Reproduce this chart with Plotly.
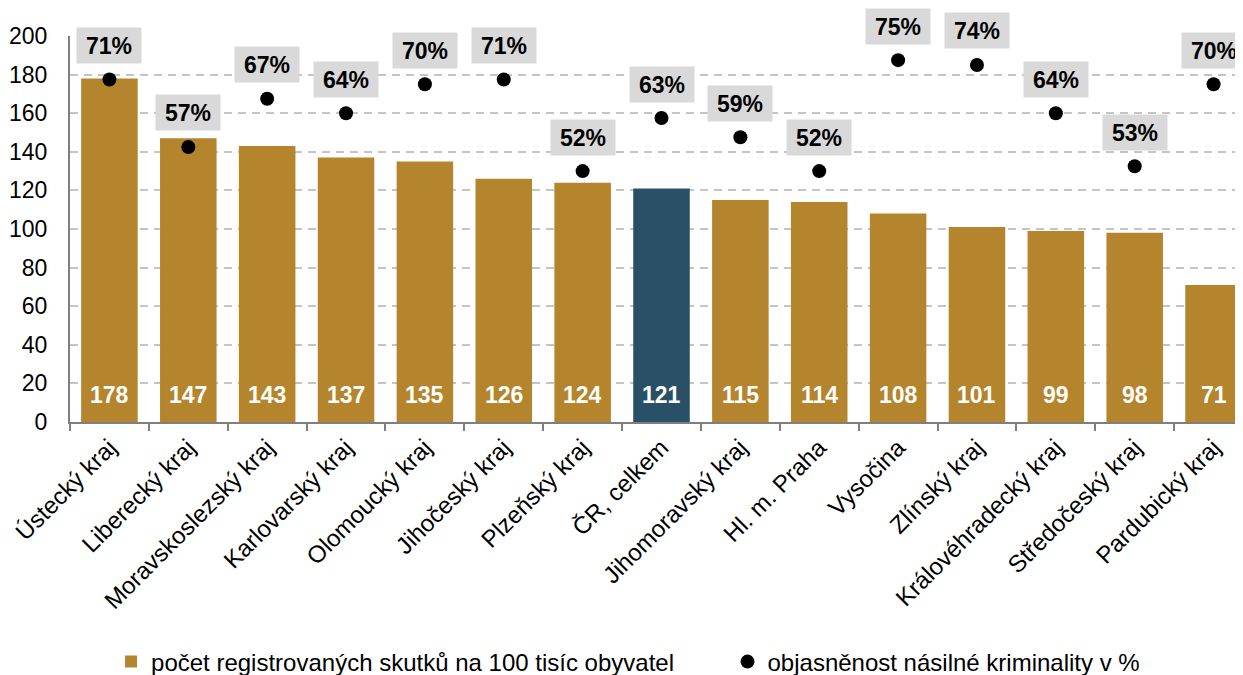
import plotly.graph_objects as go

categories = ["Ústecký kraj", "Liberecký kraj", "Moravskoslezský kraj", "Karlovarský kraj",
              "Olomoucký kraj", "Jihočeský kraj", "Plzeňský kraj", "ČR, celkem",
              "Jihomoravský kraj", "Hl. m. Praha", "Vysočina", "Zlínský kraj",
              "Královéhradecký kraj", "Středočeský kraj", "Pardubický kraj"]
crimes_per_100k = [178, 147, 143, 137, 135, 126, 124, 121, 115, 114, 108, 101, 99, 98, 71]
clearance_pct = [71, 57, 67, 64, 70, 71, 52, 63, 59, 52, 75, 74, 64, 53, 70]
y_ticks = [0, 20, 40, 60, 80, 100, 120, 140, 160, 180, 200]

GOLD = "#b5852d"
BLUE = "#2a5068"
bar_colors = [BLUE if c == "ČR, celkem" else GOLD for c in categories]
FONT = "Liberation Sans, Arial, sans-serif"

fig = go.Figure()
fig.add_trace(go.Bar(
    x=categories, y=crimes_per_100k,
    marker=dict(color=bar_colors, line=dict(width=0)),
    name="počet registrovaných skutků na 100 tisíc obyvatel",
    legend="legend",
))
fig.add_trace(go.Scatter(
    x=categories, y=clearance_pct, yaxis="y2", mode="markers",
    marker=dict(color="black", size=14),
    name="objasněnost násilné kriminality v %",
    legend="legend2",
))

# bar value labels near the base
for c, v in zip(categories, crimes_per_100k):
    fig.add_annotation(
        x=c, y=0, xref="x", yref="y", yshift=27, yanchor="middle",
        text=f"<b>{v}</b>", showarrow=False,
        font=dict(size=23, color="white", family=FONT),
    )

# percentage labels above the dots
for c, p in zip(categories, clearance_pct):
    fig.add_annotation(
        x=c, y=p, xref="x", yref="y2", yshift=34, yanchor="middle",
        text=f"<b>{p}%</b>", showarrow=False,
        font=dict(size=23, color="black", family=FONT),
        bgcolor="#d9d9d9", borderpad=0, width=64, height=35,
    )

fig.update_layout(
    width=1250, height=667,
    margin=dict(l=62, r=5, t=28, b=253, autoexpand=False),
    paper_bgcolor="white", plot_bgcolor="white",
    font=dict(family=FONT, size=23, color="black"),
    bargap=0.283,
    showlegend=True,
    legend=dict(orientation="h", x=0.0347, xanchor="left", y=-0.6218, yanchor="middle",
                font=dict(size=24, family=FONT, color="black"), bgcolor="rgba(0,0,0,0)"),
    legend2=dict(orientation="h", x=0.5558, xanchor="left", y=-0.6218, yanchor="middle",
                 font=dict(size=24, family=FONT, color="black"), bgcolor="rgba(0,0,0,0)"),
    xaxis=dict(
        type="category", tickangle=-45, tickson="boundaries", ticks="outside",
        ticklen=7, tickcolor="#7f7f7f", tickwidth=2, range=[-0.5, 14.5],
        showline=True, linecolor="#7f7f7f", linewidth=2,
        tickfont=dict(size=24, family=FONT, color="black"),
        showgrid=False, automargin=False,
    ),
    yaxis=dict(
        range=[0, 200], tickvals=y_ticks, showline=True, linecolor="#7f7f7f", linewidth=2,
        showgrid=True, gridcolor="#c4c4c4", griddash="8px,6px", gridwidth=2,
        tickfont=dict(size=23, family=FONT, color="black"), ticks="", zeroline=False,
        ticklabelstandoff=16, automargin=False,
    ),
    yaxis2=dict(range=[0, 80], overlaying="y", side="right", visible=False),
)

fig.write_html("out.html")
